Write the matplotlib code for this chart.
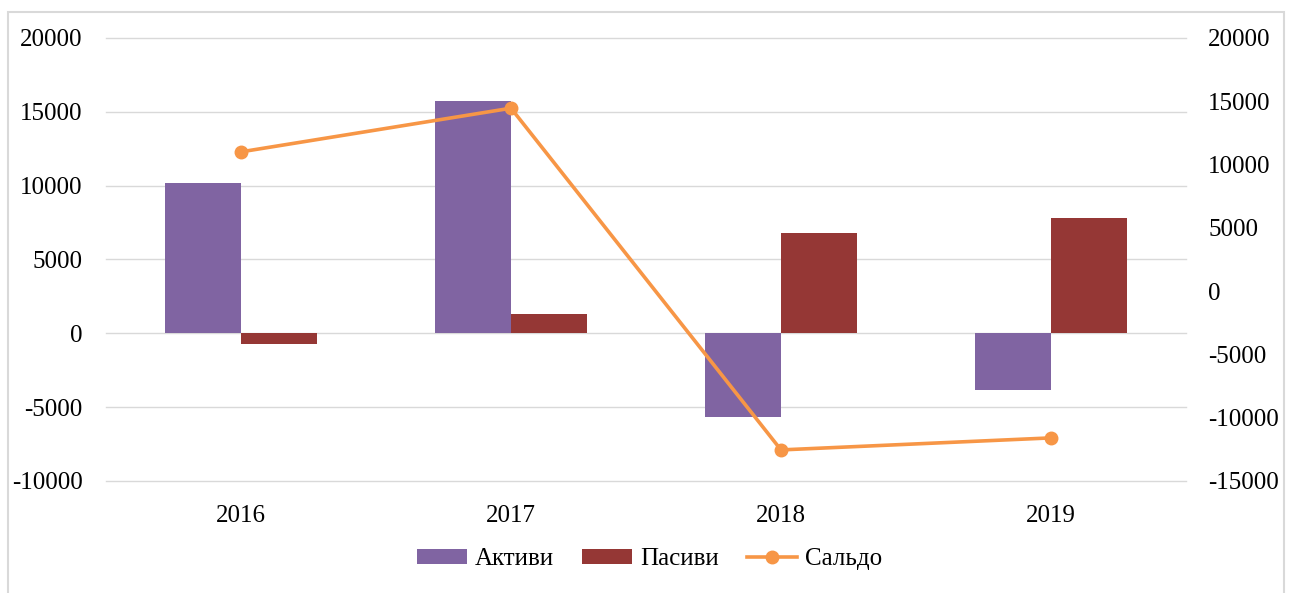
import matplotlib.pyplot as plt
import numpy as np
from matplotlib.patches import Rectangle

years = ["2016", "2017", "2018", "2019"]
aktyvy = [10150, 15700, -5650, -3850]
pasyvy = [-750, 1300, 6800, 7800]
saldo = [11000, 14450, -12550, -11600]

plt.rcParams['font.family'] = ['Liberation Serif', 'DejaVu Serif']
plt.rcParams['axes.unicode_minus'] = False

fig = plt.figure(figsize=(12.99, 5.93), dpi=100)
ax = fig.add_axes([0.0816, 0.189, 0.8314, 0.747])
ax2 = ax.twinx()

x = np.arange(len(years))
w = 0.283
ax.bar(x - w / 2, aktyvy, w, color="#8064A2", label="Активи", zorder=2)
ax.bar(x + w / 2, pasyvy, w, color="#953735", label="Пасиви", zorder=2)
ax2.plot(x, saldo, color="#F79646", lw=2.6, marker="o", ms=9, label="Сальдо")

ax.set_xlim(-0.5, 3.5)
ax.set_ylim(-10000, 20000)
ax.set_yticks(range(-10000, 20001, 5000))
ax2.set_ylim(-15000, 20000)
ax2.set_yticks(range(-15000, 20001, 5000))
ax.set_xticks(x)
ax.set_xticklabels(years)

ax.grid(axis="y", color="#D9D9D9", lw=1, zorder=0)
for g in ax.get_ygridlines():
    g.set_clip_on(False)
for a in (ax, ax2):
    for s in a.spines.values():
        s.set_visible(False)
ax.tick_params(axis="y", length=0, pad=17, labelsize=18)
ax.tick_params(axis="x", length=0, pad=17, labelsize=18)
ax2.tick_params(axis="y", length=0, pad=16, labelsize=18)

h1, l1 = ax.get_legend_handles_labels()
h2, l2 = ax2.get_legend_handles_labels()
fig.legend(h1 + h2, l1 + l2, loc="center", bbox_to_anchor=(0.5, 0.057), ncol=3,
           frameon=False, fontsize=18, handlelength=2.0, handleheight=0.55,
           columnspacing=1.15, handletextpad=0.3)

fig.patches.append(Rectangle((8 / 1299, -0.05), 1276 / 1299, 1.05 - 12 / 593,
                             transform=fig.transFigure, fill=False,
                             edgecolor="#D9D9D9", lw=1.5))

fig.savefig("out.png", dpi=100)
